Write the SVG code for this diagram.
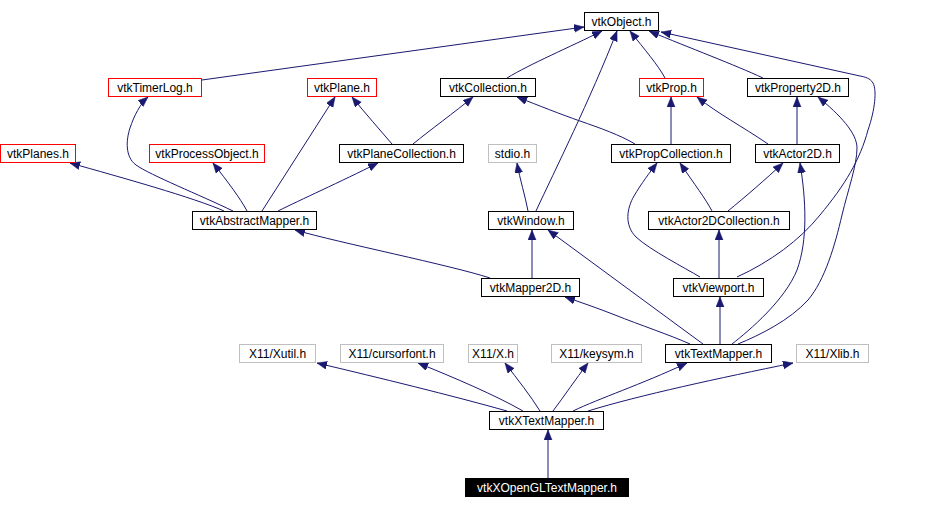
<svg xmlns="http://www.w3.org/2000/svg" width="944" height="509" viewBox="0 0 944 509">
<style>
  .n rect { fill: #ffffff; stroke: #000000; stroke-width: 1; }
  .r rect { stroke: #ff0000; }
  .g rect { stroke: #bfbfbf; }
  .k rect { fill: #000000; }
  text { font-family: "Liberation Sans", Arial, sans-serif; font-size: 12px; text-anchor: middle; fill: #000000; }
  .k text { fill: #ffffff; }
  #edges path { fill: none; stroke: #191970; stroke-width: 1; marker-end: url(#arr); }
</style>
<defs>
  <marker id="arr" markerUnits="userSpaceOnUse" markerWidth="11" markerHeight="9" refX="10" refY="4" orient="auto">
    <path d="M0,0 L10,4 L0,8 z" fill="#191970" stroke="#191970" stroke-width="0.5"/>
  </marker>
</defs>
<rect x="0" y="0" width="944" height="509" fill="#ffffff"/>
<g id="edges">
  <path d="M202,80 L584,27"/>
  <path d="M507,78 C530,64 570,47 602,31"/>
  <path d="M536,211 C555,170 590,100 617,31"/>
  <path d="M665,78 C658,65 645,50 630,31"/>
  <path d="M763,78 C735,65 690,48 649,31"/>
  <path d="M737,277 C770,262 800,240 820,215 C845,185 860,160 868,130 C875,110 877,90 873,83 C870,78 865,77 860,76 L661,32"/>
  <path d="M233,211 C200,195 150,175 136,165 C125,157 126,140 130,128 C134,116 140,104 148,97"/>
  <path d="M224,211 C195,198 120,177 70,163"/>
  <path d="M247,211 C240,198 228,182 213,163"/>
  <path d="M262,211 L335,97"/>
  <path d="M278,211 C300,200 340,182 378,163"/>
  <path d="M392,144 C380,130 365,113 352,97"/>
  <path d="M413,144 C430,130 455,112 473,97"/>
  <path d="M635,144 C620,135 600,128 580,121 C560,114 540,106 517,97"/>
  <path d="M671,144 L671,97"/>
  <path d="M768,144 C740,125 720,115 697,97"/>
  <path d="M797,144 L797,97"/>
  <path d="M738,344 C760,335 790,320 808,300 C825,280 835,245 842,215 C848,190 857,165 857,148 C857,133 840,115 818,97"/>
  <path d="M528,211 C525,195 520,180 517,163"/>
  <path d="M700,277 C685,268 650,250 636,237 C624,225 627,208 634,196 C641,184 650,172 657,163"/>
  <path d="M712,211 C705,198 695,185 680,163"/>
  <path d="M728,211 C745,197 765,180 783,163"/>
  <path d="M732,344 C750,330 785,300 797,270 C808,240 806,200 800,163"/>
  <path d="M719,278 L719,230"/>
  <path d="M490,278 C450,265 340,243 295,230"/>
  <path d="M532,278 L532,230"/>
  <path d="M703,344 L548,230"/>
  <path d="M720,344 L720,297"/>
  <path d="M690,344 C670,335 640,325 615,315 C600,309 580,302 565,297"/>
  <path d="M573,411 C600,398 640,385 687,363"/>
  <path d="M588,411 C640,395 720,378 793,363"/>
  <path d="M553,411 C565,395 575,380 588,363"/>
  <path d="M540,411 C530,395 518,380 505,363"/>
  <path d="M523,411 C495,395 455,378 418,363"/>
  <path d="M507,411 C450,395 380,378 317,363"/>
  <path d="M548,478 L548,430"/>
</g>
<g id="vtkObject" class="n"><rect x="584.5" y="12.5" width="74" height="18"/><text x="621.5" y="26">vtkObject.h</text></g>
<g id="vtkTimerLog" class="n r"><rect x="108.5" y="78.5" width="93" height="18"/><text x="155" y="92">vtkTimerLog.h</text></g>
<g id="vtkPlane" class="n r"><rect x="307.5" y="78.5" width="69" height="18"/><text x="342" y="92">vtkPlane.h</text></g>
<g id="vtkCollection" class="n"><rect x="440.5" y="78.5" width="95" height="18"/><text x="488" y="92">vtkCollection.h</text></g>
<g id="vtkProp" class="n r"><rect x="639.5" y="78.5" width="64" height="18"/><text x="671.5" y="92">vtkProp.h</text></g>
<g id="vtkProperty2D" class="n"><rect x="747.5" y="78.5" width="101" height="18"/><text x="798" y="92">vtkProperty2D.h</text></g>
<g id="vtkPlanes" class="n r"><rect x="0.5" y="144.5" width="75" height="18"/><text x="38" y="158">vtkPlanes.h</text></g>
<g id="vtkProcessObject" class="n r"><rect x="149.5" y="144.5" width="115" height="18"/><text x="207" y="158">vtkProcessObject.h</text></g>
<g id="vtkPlaneCollection" class="n"><rect x="339.5" y="144.5" width="124" height="18"/><text x="401.5" y="158">vtkPlaneCollection.h</text></g>
<g id="stdio" class="n g"><rect x="488.5" y="144.5" width="48" height="18"/><text x="512.5" y="158">stdio.h</text></g>
<g id="vtkPropCollection" class="n"><rect x="611.5" y="144.5" width="119" height="18"/><text x="671" y="158">vtkPropCollection.h</text></g>
<g id="vtkActor2D" class="n"><rect x="755.5" y="144.5" width="84" height="18"/><text x="797.5" y="158">vtkActor2D.h</text></g>
<g id="vtkAbstractMapper" class="n"><rect x="192.5" y="211.5" width="124" height="18"/><text x="254.5" y="225">vtkAbstractMapper.h</text></g>
<g id="vtkWindow" class="n"><rect x="488.5" y="211.5" width="85" height="18"/><text x="531" y="225">vtkWindow.h</text></g>
<g id="vtkActor2DCollection" class="n"><rect x="648.5" y="211.5" width="141" height="18"/><text x="719" y="225">vtkActor2DCollection.h</text></g>
<g id="vtkMapper2D" class="n"><rect x="481.5" y="278.5" width="98" height="18"/><text x="530.5" y="292">vtkMapper2D.h</text></g>
<g id="vtkViewport" class="n"><rect x="673.5" y="278.5" width="90" height="18"/><text x="718.5" y="292">vtkViewport.h</text></g>
<g id="X11_Xutil" class="n g"><rect x="239.5" y="344.5" width="76" height="18"/><text x="277.5" y="358">X11/Xutil.h</text></g>
<g id="X11_cursorfont" class="n g"><rect x="340.5" y="344.5" width="103" height="18"/><text x="392" y="358">X11/cursorfont.h</text></g>
<g id="X11_X" class="n g"><rect x="468.5" y="344.5" width="49" height="18"/><text x="493" y="358">X11/X.h</text></g>
<g id="X11_keysym" class="n g"><rect x="551.5" y="344.5" width="90" height="18"/><text x="596.5" y="358">X11/keysym.h</text></g>
<g id="vtkTextMapper" class="n"><rect x="665.5" y="344.5" width="106" height="18"/><text x="718.5" y="358">vtkTextMapper.h</text></g>
<g id="X11_Xlib" class="n g"><rect x="796.5" y="344.5" width="72" height="18"/><text x="832.5" y="358">X11/Xlib.h</text></g>
<g id="vtkXTextMapper" class="n"><rect x="489.5" y="411.5" width="114" height="18"/><text x="546.5" y="425">vtkXTextMapper.h</text></g>
<g id="vtkXOpenGLTextMapper" class="n k"><rect x="465.5" y="478.5" width="163" height="18"/><text x="547" y="492">vtkXOpenGLTextMapper.h</text></g>
</svg>
